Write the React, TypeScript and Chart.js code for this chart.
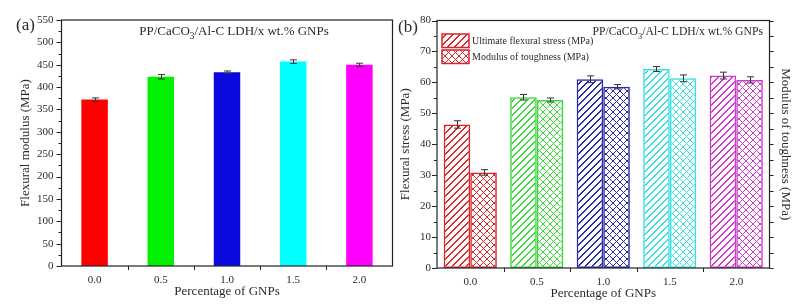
import React, { useEffect, useRef } from "react";
import { Chart, registerables } from "chart.js";
Chart.register(...registerables);

const FONT = "'Liberation Serif', 'Times New Roman', serif";
const TEXT = "#2a2a2a";

const categories = ["0.0", "0.5", "1.0", "1.5", "2.0"];
const flexModulus = [372, 423, 433, 457, 450];
const flexModulusErr = [3.8, 5, 3, 4, 3.4];
const flexStress = [46.4, 55.2, 61.0, 64.3, 62.2];
const flexStressErr = [1.2, 0.9, 1.1, 0.8, 1.1];
const toughness = [30.9, 54.3, 58.6, 61.3, 60.8];
const toughnessErr = [0.9, 0.65, 0.7, 1.1, 1.0];

const colorsA = ["#ff0000", "#00f000", "#0a0ae0", "#00ffff", "#ff00ff"];
const colorsB = ["#d8262b", "#3ad83a", "#2a2aa6", "#3ae0e0", "#cc3ccc"];

const legendLabels = ["Ultimate flexural stress (MPa)", "Modulus of toughness (MPa)"];
const titleParts = ["PP/CaCO", "3", "/Al-C LDH/x wt.% GNPs"];

function makePattern(color: string, cross: boolean): CanvasPattern | string {
  const s = 7;
  const c = document.createElement("canvas");
  c.width = s;
  c.height = s;
  const g = c.getContext("2d");
  if (!g) return color;
  g.fillStyle = color;
  for (let i = 0; i < s; i++) {
    if (cross) {
      g.fillRect(i, s - 1 - i, 1, 1);
      g.fillRect(i, i, 1, 1);
    } else {
      const x = s - 1 - i;
      g.fillRect(x, i, 1, 1);
      g.fillRect((x + 1) % s, i, 1, 1);
    }
  }
  const p = g.createPattern(c, "repeat");
  return p || color;
}

function drawFormula(ctx: CanvasRenderingContext2D, x: number, y: number, align: "center" | "right", size: number) {
  ctx.save();
  ctx.fillStyle = TEXT;
  ctx.textBaseline = "alphabetic";
  ctx.textAlign = "left";
  const f1 = `${size}px ${FONT}`;
  const f2 = `${size * 0.72}px ${FONT}`;
  ctx.font = f1;
  const w1 = ctx.measureText(titleParts[0]).width;
  const w3 = ctx.measureText(titleParts[2]).width;
  ctx.font = f2;
  const w2 = ctx.measureText(titleParts[1]).width;
  const total = w1 + w2 + w3;
  const sx = align === "center" ? x - total / 2 : x - total;
  ctx.font = f1;
  ctx.fillText(titleParts[0], sx, y);
  ctx.font = f2;
  ctx.fillText(titleParts[1], sx + w1, y + 3.5);
  ctx.font = f1;
  ctx.fillText(titleParts[2], sx + w1 + w2, y);
  ctx.restore();
}

type FrameCfg = { minor: number; major: number; rightStep?: number };

function framePlugin(cfg: FrameCfg) {
  return {
    id: "frame",
    afterDraw(chart: any) {
      const ctx: CanvasRenderingContext2D = chart.ctx;
      const { left, right, top, bottom } = chart.chartArea;
      const y = chart.scales.y;
      const x = chart.scales.x;
      ctx.save();
      ctx.strokeStyle = "#222";
      ctx.lineWidth = 1.2;
      ctx.strokeRect(left, top, right - left, bottom - top);
      ctx.lineWidth = 1;
      ctx.beginPath();
      for (let v = y.min; v <= y.max + 1e-6; v += cfg.minor) {
        const py = Math.round(y.getPixelForValue(v)) + 0.5;
        const isMajor = Math.abs(v / cfg.major - Math.round(v / cfg.major)) < 1e-6;
        const len = isMajor ? 5 : 3;
        ctx.moveTo(left - len, py);
        ctx.lineTo(left, py);
      }
      if (cfg.rightStep) {
        for (let v = y.min; v <= y.max + 1e-6; v += cfg.rightStep) {
          const py = Math.round(y.getPixelForValue(v)) + 0.5;
          ctx.moveTo(right, py);
          ctx.lineTo(right + 4, py);
        }
      }
      const n = chart.data.labels.length;
      for (let i = 1; i < n; i++) {
        const px = Math.round(x.getPixelForValue(i - 0.5)) + 0.5;
        ctx.moveTo(px, bottom);
        ctx.lineTo(px, bottom + 4);
      }
      ctx.stroke();
      ctx.restore();
    },
  };
}

function errorPlugin(errs: number[][]) {
  return {
    id: "errbars",
    afterDatasetsDraw(chart: any) {
      const ctx: CanvasRenderingContext2D = chart.ctx;
      const y = chart.scales.y;
      ctx.save();
      ctx.strokeStyle = "#333";
      ctx.lineWidth = 1;
      chart.data.datasets.forEach((ds: any, di: number) => {
        const meta = chart.getDatasetMeta(di);
        meta.data.forEach((bar: any, i: number) => {
          const v = ds.data[i];
          const e = errs[di][i];
          const px = Math.round(bar.x) + 0.5;
          const y1 = y.getPixelForValue(v + e);
          const y2 = y.getPixelForValue(v - e);
          ctx.beginPath();
          ctx.moveTo(px, y1); ctx.lineTo(px, y2);
          ctx.moveTo(px - 3.5, y1); ctx.lineTo(px + 3.5, y1);
          ctx.moveTo(px - 3.5, y2); ctx.lineTo(px + 3.5, y2);
          ctx.stroke();
        });
      });
      ctx.restore();
    },
  };
}

const tickFont = { family: FONT, size: 11 };
const titleFont = { family: FONT, size: 13, lineHeight: 1 };
const noGrid = { display: false, drawTicks: false, tickLength: 0 };

function ChartA() {
  const ref = useRef<HTMLCanvasElement>(null);
  useEffect(() => {
    if (!ref.current) return;
    const textPlugin = {
      id: "textA",
      afterDraw(chart: any) {
        const ctx: CanvasRenderingContext2D = chart.ctx;
        ctx.save();
        ctx.fillStyle = TEXT;
        ctx.font = `17px ${FONT}`;
        ctx.textBaseline = "alphabetic";
        ctx.fillText("(a)", 16, 30);
        ctx.restore();
        drawFormula(ctx, 234, 35, "center", 13);
      },
    };
    const chart = new Chart(ref.current, {
      type: "bar",
      data: {
        labels: categories,
        datasets: [
          {
            data: flexModulus,
            backgroundColor: colorsA,
            borderWidth: 0,
            categoryPercentage: 0.8,
            barPercentage: 0.5,
          },
        ],
      },
      options: {
        responsive: false,
        animation: false,
        layout: { padding: { left: 0, right: 3.5, top: 20, bottom: 0 } },
        plugins: { legend: { display: false }, tooltip: { enabled: false } },
        scales: {
          x: {
            grid: noGrid,
            border: { display: false },
            ticks: { font: tickFont, color: TEXT, padding: 8 },
            title: { display: true, text: "Percentage of GNPs", font: titleFont, color: TEXT, padding: { top: 0, bottom: 10 } },
            afterFit: (s: any) => { s.height = 42; },
          },
          y: {
            min: 0,
            max: 550,
            grid: noGrid,
            border: { display: false },
            ticks: { stepSize: 50, font: tickFont, color: TEXT, padding: 8 },
            title: { display: true, text: "Flexural modulus (MPa)", font: titleFont, color: TEXT, padding: { top: 18.6, bottom: 0 } },
            afterFit: (s: any) => { s.width = 61.5; },
          },
        },
      } as any,
      plugins: [framePlugin({ minor: 25, major: 50 }), errorPlugin([flexModulusErr]), textPlugin],
    });
    return () => chart.destroy();
  }, []);
  return <canvas ref={ref} width={396} height={308} style={{ position: "absolute", left: 0, top: 0 }} />;
}

function ChartB() {
  const ref = useRef<HTMLCanvasElement>(null);
  useEffect(() => {
    if (!ref.current) return;
    const hatch = colorsB.map((c) => makePattern(c, false));
    const cross = colorsB.map((c) => makePattern(c, true));
    const legHatch = makePattern(colorsB[0], false);
    const legCross = makePattern(colorsB[0], true);
    const textPlugin = {
      id: "textB",
      afterDraw(chart: any) {
        const ctx: CanvasRenderingContext2D = chart.ctx;
        ctx.save();
        ctx.fillStyle = TEXT;
        ctx.font = `17px ${FONT}`;
        ctx.textBaseline = "alphabetic";
        ctx.fillText("(b)", 2, 32);
        const boxes = [
          { y: 34, fill: legHatch },
          { y: 50, fill: legCross },
        ];
        boxes.forEach((b, i) => {
          ctx.fillStyle = b.fill as any;
          ctx.fillRect(46, b.y, 27, 13.5);
          ctx.strokeStyle = colorsB[0];
          ctx.lineWidth = 1.5;
          ctx.strokeRect(46, b.y, 27, 13.5);
          ctx.fillStyle = TEXT;
          ctx.font = `10px ${FONT}`;
          ctx.textBaseline = "middle";
          ctx.fillText(legendLabels[i], 76, b.y + 7);
        });
        ctx.restore();
        drawFormula(ctx, 367, 35, "right", 11.7);
      },
    };
    const chart = new Chart(ref.current, {
      type: "bar",
      data: {
        labels: categories,
        datasets: [
          {
            label: legendLabels[0],
            data: flexStress,
            backgroundColor: hatch,
            borderColor: colorsB,
            borderWidth: 1.5,
            borderSkipped: false,
            categoryPercentage: 0.8,
            barPercentage: 1,
          },
          {
            label: legendLabels[1],
            data: toughness,
            backgroundColor: cross,
            borderColor: colorsB,
            borderWidth: 1.5,
            borderSkipped: false,
            categoryPercentage: 0.8,
            barPercentage: 1,
          },
        ],
      },
      options: {
        responsive: false,
        animation: false,
        layout: { padding: { left: 0, right: 0, top: 20.5, bottom: 0 } },
        plugins: { legend: { display: false }, tooltip: { enabled: false } },
        scales: {
          x: {
            grid: noGrid,
            border: { display: false },
            ticks: { font: tickFont, color: TEXT, padding: 8 },
            title: { display: true, text: "Percentage of GNPs", font: titleFont, color: TEXT, padding: { top: 0, bottom: 8 } },
            afterFit: (s: any) => { s.height = 40; },
          },
          y: {
            min: 0,
            max: 80,
            grid: noGrid,
            border: { display: false },
            ticks: { stepSize: 10, font: tickFont, color: TEXT, padding: 6 },
            title: { display: true, text: "Flexural stress (MPa)", font: titleFont, color: TEXT, padding: { top: 3.1, bottom: 0 } },
            afterFit: (s: any) => { s.width = 41; },
          },
          y2: {
            position: "right",
            min: 0,
            max: 80,
            grid: noGrid,
            border: { display: false },
            ticks: { display: false },
            title: { display: true, text: "Modulus of toughness (MPa)", font: titleFont, color: TEXT, padding: { top: 17.1, bottom: 0 } },
            afterFit: (s: any) => { s.width = 39.5; },
          },
        },
      } as any,
      plugins: [framePlugin({ minor: 5, major: 10, rightStep: 5 }), errorPlugin([flexStressErr, toughnessErr]), textPlugin],
    });
    return () => chart.destroy();
  }, []);
  return <canvas ref={ref} width={413} height={308} style={{ position: "absolute", left: 396, top: 0 }} />;
}

export default function App() {
  return (
    <div style={{ position: "absolute", left: 0, top: 0, width: 809, height: 308, background: "#fff", overflow: "hidden" }}>
      <ChartA />
      <ChartB />
    </div>
  );
}
